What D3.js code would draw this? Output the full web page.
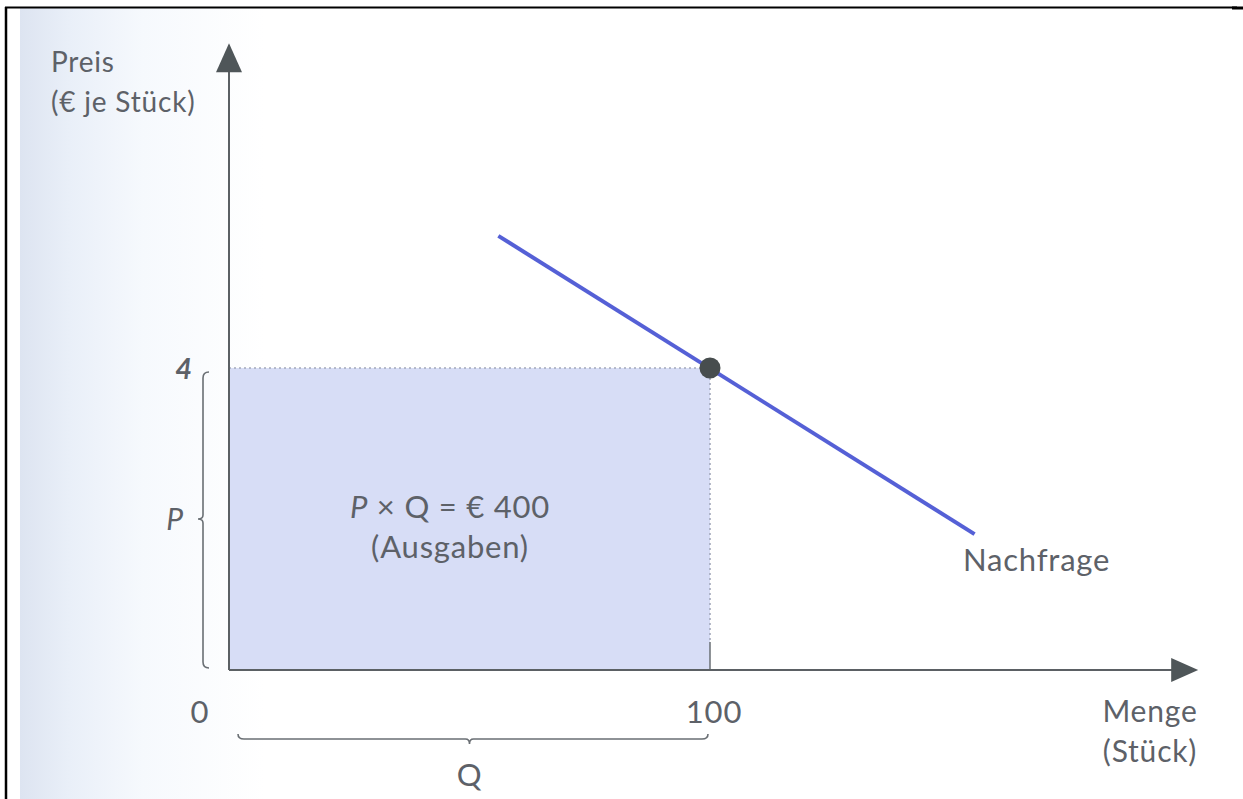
<!DOCTYPE html>
<html lang="de">
<head>
<meta charset="utf-8">
<script src="https://cdn.jsdelivr.net/npm/d3@7/dist/d3.min.js"></script>
<style>
  html, body { margin: 0; padding: 0; background: #fff; }
  svg { display: block; }
  text { font-family: Lato, "Noto Sans", sans-serif; fill: #5d6168; letter-spacing: 0.8px; }
</style>
</head>
<body>
<svg id="chart" width="1243" height="799"></svg>
<script>
// Market data: one price-quantity point on a linear demand curve
const priceTicks = [4];
const quantityTicks = [0, 100];
const equilibrium = [{ q: 100, p: 4 }];
const demandCurve = [{ q: 56, p: 5.75 }, { q: 155, p: 1.8 }];
const spendingLabel = ["P × Q = € 400", "(Ausgaben)"];
const axisLabelsY = ["Preis", "(€ je Stück)"];
const axisLabelsX = ["Menge", "(Stück)"];
const curveLabel = "Nachfrage";
const axisExtent = { q: 201.5, p: 8.3 };

const svg = d3.select("#chart");
const W = 1243, H = 799;

const x = d3.scaleLinear().domain([0, 100]).range([229, 710]);
const y = d3.scaleLinear().domain([0, 4]).range([670, 368]);

// page background with a soft bluish shade along the left edge
const defs = svg.append("defs");
const grad = defs.append("linearGradient").attr("id", "shade")
  .attr("x1", 0).attr("x2", 1).attr("y1", 0).attr("y2", 0);
grad.append("stop").attr("offset", 0).attr("stop-color", "#dde4f1");
grad.append("stop").attr("offset", 0.04).attr("stop-color", "#e9eff8");
grad.append("stop").attr("offset", 0.1).attr("stop-color", "#f6f9fd");
grad.append("stop").attr("offset", 0.2).attr("stop-color", "#ffffff");
grad.append("stop").attr("offset", 1).attr("stop-color", "#ffffff");

svg.append("rect").attr("x", 20).attr("y", 8).attr("width", W - 20).attr("height", H - 8)
  .attr("fill", "url(#shade)");

// frame lines
svg.append("line").attr("x1", 5).attr("x2", 1237).attr("y1", 7.5).attr("y2", 7.5)
  .attr("stroke", "#000").attr("stroke-width", 2);
svg.append("line").attr("x1", 1232).attr("x2", W).attr("y1", 8).attr("y2", 8)
  .attr("stroke", "#000").attr("stroke-width", 3);
svg.append("line").attr("x1", 6).attr("x2", 6).attr("y1", 7).attr("y2", H)
  .attr("stroke", "#000").attr("stroke-width", 2.5);

const g = svg.append("g");

// spending rectangle P x Q
const eq = equilibrium[0];
g.append("rect")
  .attr("x", x(0)).attr("y", y(eq.p))
  .attr("width", x(eq.q) - x(0)).attr("height", y(0) - y(eq.p))
  .attr("fill", "#d7ddf6");

// dotted guides to the point
g.append("line").attr("x1", x(0)).attr("x2", x(eq.q)).attr("y1", y(eq.p)).attr("y2", y(eq.p))
  .attr("stroke", "#a4a9bb").attr("stroke-width", 1.6).attr("stroke-dasharray", "2,3");
g.append("line").attr("x1", x(eq.q)).attr("x2", x(eq.q)).attr("y1", y(eq.p)).attr("y2", y(0) - 28)
  .attr("stroke", "#a4a9bb").attr("stroke-width", 1.6).attr("stroke-dasharray", "2,3");
// tick at Q = 100
g.append("line").attr("x1", x(eq.q)).attr("x2", x(eq.q)).attr("y1", y(0) - 28).attr("y2", y(0))
  .attr("stroke", "#6a6f74").attr("stroke-width", 1.5);

// axes with arrowheads
const axisColor = "#5b6064";
g.append("line").attr("x1", x(0)).attr("x2", x(0)).attr("y1", y(0)).attr("y2", y(axisExtent.p) + 20)
  .attr("stroke", axisColor).attr("stroke-width", 2);
g.append("line").attr("x1", x(0)).attr("x2", x(axisExtent.q) - 20).attr("y1", y(0)).attr("y2", y(0))
  .attr("stroke", axisColor).attr("stroke-width", 2);

const tipY = y(axisExtent.p), tipX = x(axisExtent.q);
g.append("path")
  .attr("d", `M${x(0)},${tipY} L${x(0) - 13},${tipY + 29} L${x(0) + 13},${tipY + 29} Z`)
  .attr("fill", "#4f5659");
g.append("path")
  .attr("d", `M${tipX},${y(0)} L${tipX - 27},${y(0) - 12} L${tipX - 27},${y(0) + 12} Z`)
  .attr("fill", "#4f5659");

// demand curve
const line = d3.line().x(d => x(d.q)).y(d => y(d.p));
g.append("path").datum(demandCurve).attr("d", line)
  .attr("fill", "none").attr("stroke", "#5560d6").attr("stroke-width", 4);

g.selectAll("circle.eq").data(equilibrium).join("circle")
  .attr("class", "eq")
  .attr("cx", d => x(d.q)).attr("cy", d => y(d.p)).attr("r", 10.5)
  .attr("fill", "#474d4e");

// brace for P (vertical)
const braceColor = "#6a6f74";
const bx = 203, pTop = y(eq.p) + 4, pBot = y(0) - 2, pMid = y(eq.p / 2);
g.append("path")
  .attr("d", `M${bx + 6},${pTop} Q${bx},${pTop} ${bx},${pTop + 6}
              L${bx},${pMid - 4} Q${bx},${pMid} ${bx - 5},${pMid}
              Q${bx},${pMid} ${bx},${pMid + 4}
              L${bx},${pBot - 6} Q${bx},${pBot} ${bx + 6},${pBot}`)
  .attr("fill", "none").attr("stroke", braceColor).attr("stroke-width", 1.6);

// brace for Q (horizontal)
const by = 739, qL = x(0) + 9, qR = x(eq.q) - 2, qMid = x(eq.q / 2);
g.append("path")
  .attr("d", `M${qL},${by - 5} Q${qL},${by} ${qL + 6},${by}
              L${qMid - 4},${by} Q${qMid},${by} ${qMid},${by + 5}
              Q${qMid},${by} ${qMid + 4},${by}
              L${qR - 6},${by} Q${qR},${by} ${qR},${by - 5}`)
  .attr("fill", "none").attr("stroke", braceColor).attr("stroke-width", 1.6);

// tick labels
g.selectAll("text.ptick").data(priceTicks).join("text")
  .attr("class", "ptick")
  .attr("x", 184).attr("y", d => y(d) + 11)
  .attr("text-anchor", "middle").attr("font-size", 29).attr("font-style", "italic")
  .attr("font-weight", 700)
  .text(d => d);
g.selectAll("text.qtick").data(quantityTicks).join("text")
  .attr("class", "qtick")
  .attr("x", d => d === 0 ? 200 : x(d) + 4).attr("y", 723)
  .attr("text-anchor", "middle").attr("font-size", 31)
  .text(d => d);

g.append("text").attr("x", 175).attr("y", pMid + 11)
  .attr("text-anchor", "middle").attr("font-size", 30).attr("font-style", "italic").text("P");
g.append("text").attr("x", qMid).attr("y", 786)
  .attr("text-anchor", "middle").attr("font-size", 31).text("Q");

// axis titles
g.selectAll("text.ylab").data(axisLabelsY).join("text")
  .attr("class", "ylab")
  .attr("x", 51).attr("y", (d, i) => 72 + i * 40)
  .attr("font-size", 28).text(d => d);
g.selectAll("text.xlab").data(axisLabelsX).join("text")
  .attr("class", "xlab")
  .attr("x", 1150).attr("y", (d, i) => 722 + i * 40)
  .attr("text-anchor", "middle").attr("font-size", 30).text(d => d);

// spending annotation
const sp = g.append("text").attr("x", 450).attr("y", 518)
  .attr("text-anchor", "middle").attr("font-size", 31);
sp.append("tspan").attr("font-style", "italic").text("P");
sp.append("tspan").text(spendingLabel[0].slice(1));
g.append("text").attr("x", 450).attr("y", 558)
  .attr("text-anchor", "middle").attr("font-size", 31).text(spendingLabel[1]);

// curve label
g.append("text").attr("x", 963).attr("y", 571)
  .attr("font-size", 31).text(curveLabel);
</script>
</body>
</html>
